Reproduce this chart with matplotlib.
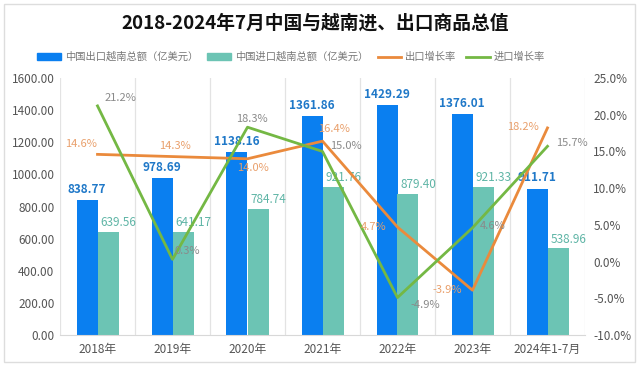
"""China - Vietnam import / export totals 2018 to Jul 2024, bars plus growth lines."""

import matplotlib.pyplot as plt
from matplotlib.patches import Rectangle
from matplotlib.lines import Line2D
from matplotlib.ticker import FormatStrFormatter, MultipleLocator

plt.rcParams["font.family"] = ["Noto Sans CJK SC", "DejaVu Sans"]

# data
years = ["2018年", "2019年", "2020年", "2021年", "2022年", "2023年", "2024年1-7月"]
export_total = [838.77, 978.69, 1138.16, 1361.86, 1429.29, 1376.01, 911.71]
import_total = [639.56, 641.17, 784.74, 921.76, 879.40, 921.33, 538.96]
export_growth = [14.6, 14.3, 14.0, 16.4, 4.7, -3.9, 18.2]
import_growth = [21.2, 0.3, 18.3, 15.0, -4.9, 4.6, 15.7]

# label offsets (pixels) for the growth labels
export_offsets = [(-16, 10), (2, 11), (5, -9), (12, 12), (-24, 0), (-25, 0), (-25, 1)]
import_offsets = [(23, 8), (15, 8), (4, 8), (23, 5), (28, -7), (20, 2), (24, 3)]

c_export = "#0a7ff0"
c_import = "#6cc4b4"
c_eg = "#ea8a3c"
c_ig = "#74b844"

fig = plt.figure(figsize=(6.4, 3.66), dpi=100)
fig.patches.append(Rectangle((4 / 640, 4 / 366), 631 / 640, 358 / 366, transform=fig.transFigure,
                             fill=False, edgecolor="#dddddd", linewidth=1))

ax = fig.add_axes([60 / 640, 31 / 366, 525 / 640, 257 / 366])
ax2 = ax.twinx()

x = list(range(len(years)))
w = 0.28
ax.bar([i - w / 2 for i in x], export_total, width=w, color=c_export, zorder=2)
ax.bar([i + w / 2 for i in x], import_total, width=w, color=c_import, zorder=2)

ax.set_xlim(-0.5, len(years) - 0.5)
ax.set_ylim(0, 1600)
ax.yaxis.set_major_locator(MultipleLocator(200))
ax.yaxis.set_major_formatter(FormatStrFormatter("%.2f"))
ax.set_xticks(x)
ax.set_xticklabels(years)
for b in [i - 0.5 for i in range(len(years) + 1)]:
    ax.axvline(b, color="#e3e3e3", linewidth=0.9, zorder=0)
for s in ["top", "right", "left"]:
    ax.spines[s].set_visible(False)
    ax2.spines[s].set_visible(False)
ax.spines["bottom"].set_color("#d8d8d8")
ax2.spines["bottom"].set_visible(False)
ax.tick_params(axis="both", length=0, labelsize=8.5, colors="#555555", pad=4)
ax.tick_params(axis="x", pad=6)

for i in x:
    ax.annotate(f"{export_total[i]:.2f}", (i - w / 2, export_total[i]), xytext=(0, 3),
                textcoords="offset points", ha="center", va="bottom",
                fontsize=8.5, fontweight="bold", color="#1f78c8")
    ax.annotate(f"{import_total[i]:.2f}", (i, import_total[i]), xytext=(2, 2),
                textcoords="offset points", ha="left", va="bottom",
                fontsize=8.5, color="#5fb5a6")

ax2.plot(x, export_growth, color=c_eg, linewidth=2)
ax2.plot(x, import_growth, color=c_ig, linewidth=2)
ax2.set_ylim(-10, 25)
ax2.yaxis.set_major_locator(MultipleLocator(5))
ax2.yaxis.set_major_formatter(FormatStrFormatter("%.1f%%"))
ax2.tick_params(axis="y", length=0, labelsize=8.5, colors="#555555", pad=6)

for i in x:
    dx, dy = export_offsets[i]
    ax2.annotate(f"{export_growth[i]:.1f}%", (i, export_growth[i]), xytext=(dx * 0.72, dy * 0.72),
                 textcoords="offset points", ha="center", va="center", fontsize=8, color="#e9a06c")
    dx, dy = import_offsets[i]
    ax2.annotate(f"{import_growth[i]:.1f}%", (i, import_growth[i]), xytext=(dx * 0.72, dy * 0.72),
                 textcoords="offset points", ha="center", va="center", fontsize=8, color="#8a8a8a")

fig.text(315 / 640, 1 - 23 / 366, "2018-2024年7月中国与越南进、出口商品总值",
         ha="center", va="center", fontsize=13.5, fontweight="bold", color="#111111")

handles = [
    Rectangle((0, 0), 1, 1, color=c_export),
    Rectangle((0, 0), 1, 1, color=c_import),
    Line2D([], [], color=c_eg, linewidth=2),
    Line2D([], [], color=c_ig, linewidth=2),
]
labels = ["中国出口越南总额（亿美元）", "中国进口越南总额（亿美元）", "出口增长率", "进口增长率"]
leg = fig.legend(handles, labels, loc="center", bbox_to_anchor=(291 / 640, 1 - 57 / 366), ncol=4,
                 frameon=False, fontsize=7.4, handlelength=2.3, handleheight=0.55, handletextpad=0.4,
                 columnspacing=0.9)
for t in leg.get_texts():
    t.set_color("#777777")

fig.savefig("out.png", dpi=100)
